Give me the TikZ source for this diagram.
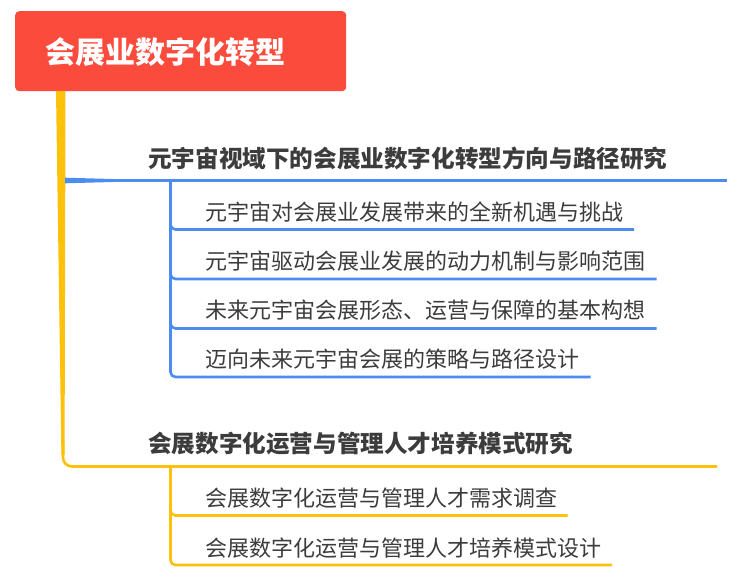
\documentclass[tikz,border=0pt]{standalone}
\usepackage{fontspec}
\newfontfamily\cjk{Noto Sans CJK SC}
\definecolor{titlered}{RGB}{250,75,60}
\definecolor{trunkyellow}{RGB}{252,193,10}
\definecolor{branchblue}{RGB}{74,140,240}
\definecolor{txtgray}{RGB}{60,60,60}
\begin{document}
\begin{tikzpicture}[x=1pt,y=-1pt,
  titlebox/.style={fill=titlered,rounded corners=4pt,minimum width=331pt,minimum height=80pt,inner sep=0pt},
  titletext/.style={text=white,font=\cjk\bfseries\fontsize{30}{30}\selectfont,inner sep=0pt,anchor=west},
  lvlone/.style={text=txtgray,font=\cjk\bfseries\fontsize{23.6}{24}\selectfont,inner sep=0pt,anchor=west},
  lvltwo/.style={text=txtgray,font=\cjk\fontsize{22}{22}\selectfont,inner sep=0pt,anchor=west},
  bluebr/.style={draw=branchblue,line width=2.6pt,rounded corners=5pt},
  yellowbr/.style={draw=trunkyellow,line width=2.6pt,rounded corners=5pt}]
\useasboundingbox (0,0) rectangle (741,577);
% title
\node[titlebox,anchor=north west] (title) at (15,11) {};
\node[titletext] (titletxt) at (45,52) {会展业数字化转型};
% coordinates
\coordinate (trunktop) at (60.5,91);
\coordinate (bluestart) at (65,180.5);
\coordinate (blueend) at (727,180.5);
\coordinate (bluevert) at (170.5,180.5);
\coordinate (yelcorner) at (63,466.5);
\coordinate (yelend) at (717,466.5);
\coordinate (yelvert) at (170.5,466.5);
\coordinate (ba) at (634,229.5);
\coordinate (bb) at (656.5,279);
\coordinate (bc) at (656.5,328.5);
\coordinate (bd) at (590.5,377);
\coordinate (ya) at (567.5,515.5);
\coordinate (yb) at (612,565);
% trunk (tapered)
\fill[trunkyellow] (56,91) -- (65.5,91) -- (64.6,455) -- (61.4,455) -- cycle;
\draw[yellowbr,rounded corners=9pt] (63,440) |- (yelend);
% blue main branch (tapered near trunk)
\fill[branchblue] (bluestart) ++(0,-2.8) -- ++(55,1.5) -- ++(0,2.6) -- ++(-55,1.5) -- cycle;
\draw[bluebr] (110,180.5) -- (blueend);
% level one texts
\node[lvlone] (l1a) at (148,158) {元宇宙视域下的会展业数字化转型方向与路径研究};
\node[lvlone] (l1b) at (148,444) {会展数字化运营与管理人才培养模式研究};
% blue sub branches
\draw[bluebr] (bluevert) |- (ba);
\draw[bluebr] (bluevert) |- (bb);
\draw[bluebr] (bluevert) |- (bc);
\draw[bluebr] (bluevert) |- (bd);
\node[lvltwo] (ia) at (205,212) {元宇宙对会展业发展带来的全新机遇与挑战};
\node[lvltwo] (ib) at (205,261.5) {元宇宙驱动会展业发展的动力机制与影响范围};
\node[lvltwo] (ic) at (205,310.5) {未来元宇宙会展形态、运营与保障的基本构想};
\node[lvltwo] (id) at (205,359) {迈向未来元宇宙会展的策略与路径设计};
% yellow sub branches
\draw[yellowbr] (yelvert) |- (ya);
\draw[yellowbr] (yelvert) |- (yb);
\node[lvltwo] (ja) at (205.5,498.5) {会展数字化运营与管理人才需求调查};
\node[lvltwo] (jb) at (205.5,548) {会展数字化运营与管理人才培养模式设计};
\end{tikzpicture}
\end{document}
